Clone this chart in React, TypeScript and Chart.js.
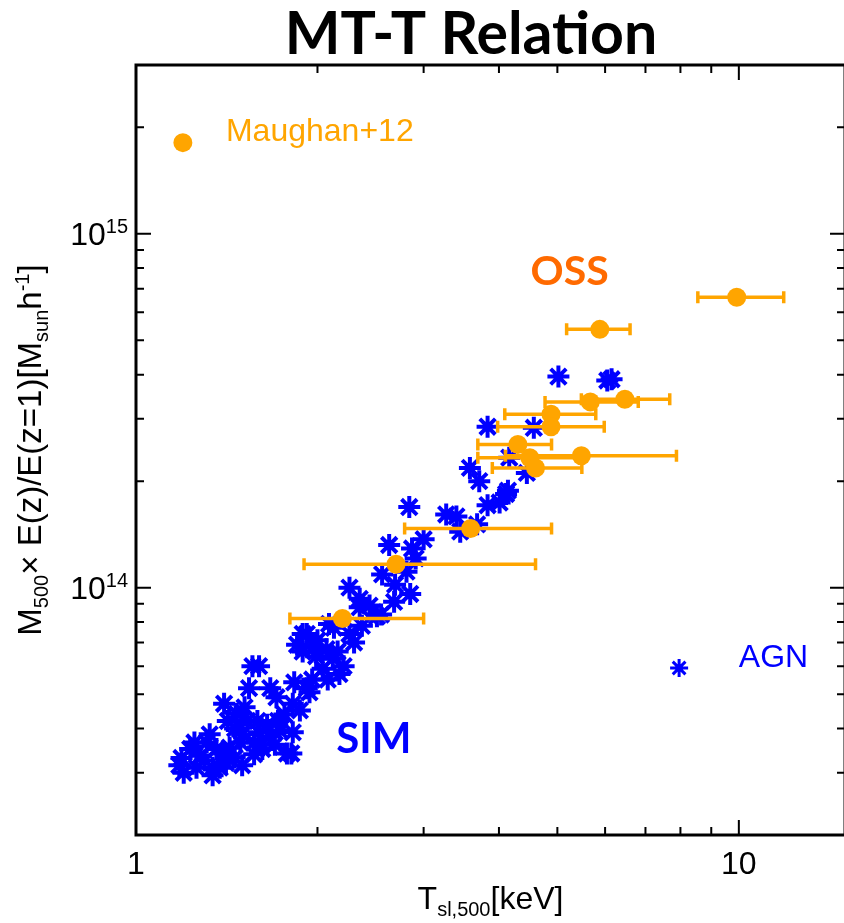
import React, { useEffect, useRef } from "react";
import { Chart, registerables } from "chart.js";

Chart.register(...registerables);

// Simulated clusters (SIM, AGN run): temperature [keV], mass [M_sun/h]
const SIM_T = [
  5.02, 6.05, 6.15, 3.83, 4.57, 4.16, 3.58, 3.71, 4.45, 4.14, 4.01, 3.83, 2.84, 3.27, 3.4, 3.45,
  3.68, 3.0, 2.63, 2.87, 2.91, 2.56, 2.81, 2.85, 2.69, 2.26, 2.35, 2.44, 2.55, 2.09, 2.26, 2.37,
  1.89, 2.35, 2.51, 2.13, 1.85, 1.92, 1.89, 2.07, 1.99, 2.12, 2.04, 2.21, 2.08, 1.96, 1.83, 1.92,
  1.56, 1.6, 1.54, 1.67, 1.71, 1.82, 1.87, 1.4, 1.47, 1.42, 1.53, 1.59, 1.65, 1.72, 1.6, 1.5,
  1.82, 1.49, 1.62, 1.78, 1.81, 1.31, 1.36, 1.28, 1.4, 1.23, 1.19, 1.26, 1.34, 1.41, 1.5, 1.2,
  1.34, 1.18, 4.11, 1.98, 2.0, 2.16, 1.67, 1.73, 1.57, 1.46, 1.3, 1.43,
  1.25, 1.325, 1.377, 1.458, 1.57, 1.7, 1.514, 1.763, 1.94, 2.175, 2.3, 2.68,
];
const SIM_M = [
  3.95e14, 3.85e14, 3.88e14, 2.85e14, 2.83e14, 2.33e14, 2.18e14, 2.0e14, 2.11e14, 1.88e14, 1.74e14,
  1.71e14, 1.69e14, 1.61e14, 1.59e14, 1.44e14, 1.51e14, 1.37e14, 1.32e14, 1.29e14, 1.21e14, 1.09e14,
  1.11e14, 0.96e14, 1.02e14, 1.0e14, 0.93e14, 0.89e14, 0.84e14, 0.79e14, 0.74e14, 0.78e14, 0.74e14,
  0.88e14, 0.83e14, 0.77e14, 0.69e14, 0.74e14, 0.66e14, 0.67e14, 0.64e14, 0.63e14, 0.59e14, 0.6e14,
  0.55e14, 0.55e14, 0.54e14, 0.52e14, 0.6e14, 0.6e14, 0.52e14, 0.52e14, 0.49e14, 0.47e14, 0.45e14,
  0.47e14, 0.44e14, 0.42e14, 0.42e14, 0.42e14, 0.41e14, 0.42e14, 0.39e14, 0.385e14, 0.39e14,
  0.365e14, 0.35e14, 0.34e14, 0.34e14, 0.365e14, 0.35e14, 0.335e14, 0.34e14, 0.35e14, 0.33e14,
  0.31e14, 0.31e14, 0.32e14, 0.315e14, 0.3e14, 0.295e14, 0.315e14, 1.84e14, 0.68e14, 0.71e14,
  0.66e14, 0.38e14, 0.395e14, 0.365e14, 0.4e14, 0.325e14, 0.353e14,
  0.365e14, 0.385e14, 0.31e14, 0.331e14, 0.338e14, 0.36e14, 0.459e14, 0.438e14, 0.506e14, 0.57e14,
  0.7e14, 0.912e14,
];

// Maughan+12 observed clusters
const OBS_T = [9.92, 5.88, 6.47, 5.67, 4.88, 4.88, 4.3, 5.48, 4.5, 4.6, 3.59, 2.7, 2.2];
const OBS_T_LO = [8.55, 5.18, 5.48, 4.77, 4.09, 3.98, 3.69, 4.1, 3.69, 3.9, 2.79, 1.9, 1.8];
const OBS_T_HI = [11.87, 6.6, 7.68, 6.81, 5.79, 5.98, 4.89, 7.88, 5.48, 5.49, 4.89, 4.6, 3.0];
const OBS_M = [
  6.62e14, 5.37e14, 3.41e14, 3.35e14, 3.09e14, 2.85e14, 2.54e14, 2.36e14, 2.33e14, 2.18e14,
  1.47e14, 1.165e14, 0.818e14,
];

// Axes
const X_MIN = 1;
const X_MAX = 15;
const Y_MIN = 2e13;
const Y_MAX = 3e15;
const X_MAJOR = [1, 10];
const X_MAJOR_LABELS = ["1", "10"];
const X_MINOR = [2, 3, 4, 5, 6, 7, 8, 9];
const Y_MAJOR = [1e14, 1e15];
const Y_MAJOR_EXP = ["14", "15"];
const Y_MINOR = [3e13, 4e13, 5e13, 6e13, 7e13, 8e13, 9e13, 2e14, 3e14, 4e14, 5e14, 6e14, 7e14, 8e14, 9e14, 2e15];

// Annotation anchors (data coordinates)
const LEGEND_OBS = { x: 1.196, y: 1.81e15, text: "Maughan+12", tx: 1.41, ty: 1.94e15 };
const LEGEND_AGN = { x: 7.96, y: 5.93e13, text: "AGN", tx: 10.0, ty: 6.33e13 };
const LABEL_OSS = { x: 5.24, y: 7.8e14, text: "OSS" };
const LABEL_SIM = { x: 2.48, y: 3.72e13, text: "SIM" };

const BLUE = "#0000FF";
const ORANGE = "#FFA500";
const DARK_ORANGE = "#FF6A00";
const SANS = "'Liberation Sans', Arial, Helvetica, sans-serif";
const BOLD = "'Lato', 'Open Sans', sans-serif";

type Part = { t: string; k?: "sub" | "sup" };

function drawRich(ctx: CanvasRenderingContext2D, parts: Part[], x: number, y: number, size: number, align: "center" | "left" | "right") {
  const small = Math.round(size * 0.62);
  const widths = parts.map((p) => {
    ctx.font = `${p.k ? small : size}px ${SANS}`;
    return ctx.measureText(p.t).width;
  });
  const total = widths.reduce((a, b) => a + b, 0);
  let cx = align === "center" ? x - total / 2 : align === "right" ? x - total : x;
  ctx.textAlign = "left";
  ctx.textBaseline = "alphabetic";
  parts.forEach((p, i) => {
    ctx.font = `${p.k ? small : size}px ${SANS}`;
    const dy = p.k === "sub" ? size * 0.22 : p.k === "sup" ? -size * 0.36 : 0;
    ctx.fillText(p.t, cx, y + dy);
    cx += widths[i];
  });
}

const decorPlugin = {
  id: "decor",
  afterDatasetDraw(chart: any, args: any) {
    if (args.index !== 0) return;
    const { ctx, scales, chartArea } = chart;
    const xs = scales.x;
    const ys = scales.y;
    ctx.save();
    ctx.beginPath();
    ctx.rect(chartArea.left, chartArea.top, chartArea.right - chartArea.left, chartArea.bottom - chartArea.top);
    ctx.clip();
    ctx.strokeStyle = ORANGE;
    ctx.lineWidth = 3.5;
    OBS_T.forEach((_, i) => {
      const y = ys.getPixelForValue(OBS_M[i]);
      const x0 = xs.getPixelForValue(OBS_T_LO[i]);
      const x1 = xs.getPixelForValue(OBS_T_HI[i]);
      ctx.beginPath();
      ctx.moveTo(x0, y);
      ctx.lineTo(x1, y);
      ctx.moveTo(x0, y - 6);
      ctx.lineTo(x0, y + 6);
      ctx.moveTo(x1, y - 6);
      ctx.lineTo(x1, y + 6);
      ctx.stroke();
    });
    ctx.restore();
  },
  afterDraw(chart: any) {
    const { ctx, scales, chartArea } = chart;
    const xs = scales.x;
    const ys = scales.y;
    const { left, right, top, bottom } = chartArea;
    ctx.save();
    // tick marks (inward, all four sides)
    ctx.strokeStyle = "#000";
    ctx.lineWidth = 2;
    const xt = (v: number, len: number) => {
      const x = xs.getPixelForValue(v);
      ctx.beginPath();
      ctx.moveTo(x, bottom);
      ctx.lineTo(x, bottom - len);
      ctx.moveTo(x, top);
      ctx.lineTo(x, top + len);
      ctx.stroke();
    };
    const yt = (v: number, len: number) => {
      const y = ys.getPixelForValue(v);
      ctx.beginPath();
      ctx.moveTo(left, y);
      ctx.lineTo(left + len, y);
      ctx.moveTo(right, y);
      ctx.lineTo(right - len, y);
      ctx.stroke();
    };
    X_MINOR.forEach((v) => xt(v, 8));
    X_MAJOR.forEach((v) => xt(v, 15));
    Y_MINOR.forEach((v) => yt(v, 8));
    Y_MAJOR.forEach((v) => yt(v, 15));
    // frame
    ctx.lineWidth = 3;
    ctx.strokeRect(left, top, right - left, bottom - top);

    ctx.fillStyle = "#000";
    // x tick labels
    ctx.font = `32px ${SANS}`;
    ctx.textAlign = "center";
    ctx.textBaseline = "alphabetic";
    X_MAJOR.forEach((v, i) => {
      ctx.fillText(X_MAJOR_LABELS[i], xs.getPixelForValue(v), bottom + 39);
    });
    // y tick labels
    Y_MAJOR.forEach((v, i) => {
      const y = ys.getPixelForValue(v);
      drawRich(ctx, [{ t: "10" }, { t: Y_MAJOR_EXP[i], k: "sup" }], left - 8, y + 11, 32, "right");
    });
    // x axis title
    drawRich(ctx, [{ t: "T" }, { t: "sl,500", k: "sub" }, { t: "[keV]" }], (left + right) / 2, bottom + 74, 32, "center");
    // y axis title
    ctx.save();
    ctx.translate(41, (top + bottom) / 2);
    ctx.rotate(-Math.PI / 2);
    drawRich(
      ctx,
      [
        { t: "M" },
        { t: "500", k: "sub" },
        { t: "\u00d7 E(z)/E(z=1)[M" },
        { t: "sun", k: "sub" },
        { t: "h" },
        { t: "-1", k: "sup" },
        { t: "]" },
      ],
      0,
      0,
      33,
      "center"
    );
    ctx.restore();

    // chart title
    ctx.font = `bold 59px ${BOLD}`;
    ctx.textAlign = "center";
    ctx.fillText("MT-T Relation", 471, 54);

    // legend: Maughan+12
    ctx.fillStyle = ORANGE;
    ctx.beginPath();
    ctx.arc(xs.getPixelForValue(LEGEND_OBS.x), ys.getPixelForValue(LEGEND_OBS.y), 9.5, 0, Math.PI * 2);
    ctx.fill();
    ctx.font = `32px ${SANS}`;
    ctx.textAlign = "left";
    ctx.textBaseline = "middle";
    ctx.fillText(LEGEND_OBS.text, xs.getPixelForValue(LEGEND_OBS.tx), ys.getPixelForValue(LEGEND_OBS.ty));

    // legend: AGN
    const ax = xs.getPixelForValue(LEGEND_AGN.x);
    const ay = ys.getPixelForValue(LEGEND_AGN.y);
    ctx.strokeStyle = BLUE;
    ctx.lineWidth = 3;
    ctx.beginPath();
    const r = 9;
    for (let k = 0; k < 4; k++) {
      const a = (k * Math.PI) / 4;
      ctx.moveTo(ax - r * Math.sin(a), ay - r * Math.cos(a));
      ctx.lineTo(ax + r * Math.sin(a), ay + r * Math.cos(a));
    }
    ctx.stroke();
    ctx.fillStyle = BLUE;
    ctx.fillText(LEGEND_AGN.text, xs.getPixelForValue(LEGEND_AGN.tx), ys.getPixelForValue(LEGEND_AGN.ty));

    // group labels
    ctx.textAlign = "center";
    ctx.font = `bold 41px ${BOLD}`;
    ctx.fillStyle = DARK_ORANGE;
    ctx.fillText(LABEL_OSS.text, xs.getPixelForValue(LABEL_OSS.x), ys.getPixelForValue(LABEL_OSS.y));
    ctx.font = `bold 42px ${BOLD}`;
    ctx.fillStyle = BLUE;
    ctx.fillText(LABEL_SIM.text, xs.getPixelForValue(LABEL_SIM.x), ys.getPixelForValue(LABEL_SIM.y));
    ctx.restore();
  },
};

export default function App() {
  const ref = useRef<HTMLCanvasElement | null>(null);
  useEffect(() => {
    if (!ref.current) return;
    const chart = new Chart(ref.current, {
      type: "scatter",
      data: {
        datasets: [
          {
            label: "SIM",
            data: SIM_T.map((t, i) => ({ x: t, y: SIM_M[i] })),
            pointStyle: "star",
            pointRadius: 11,
            borderWidth: 4,
            borderColor: BLUE,
            backgroundColor: BLUE,
            order: 2,
          },
          {
            label: "Maughan+12",
            data: OBS_T.map((t, i) => ({ x: t, y: OBS_M[i] })),
            pointStyle: "circle",
            pointRadius: 9.5,
            borderWidth: 0,
            borderColor: ORANGE,
            backgroundColor: ORANGE,
            order: 1,
          },
        ],
      },
      options: {
        responsive: false,
        animation: false,
        devicePixelRatio: 1,
        layout: { padding: { top: 65, right: 2, left: 0, bottom: 0 } },
        plugins: { legend: { display: false }, tooltip: { enabled: false }, title: { display: false } },
        scales: {
          x: {
            type: "logarithmic",
            min: X_MIN,
            max: X_MAX,
            grid: { display: false },
            border: { display: false },
            ticks: { display: false },
            afterFit: (s: any) => {
              s.height = 88;
            },
          },
          y: {
            type: "logarithmic",
            min: Y_MIN,
            max: Y_MAX,
            grid: { display: false },
            border: { display: false },
            ticks: { display: false },
            afterFit: (s: any) => {
              s.width = 136;
            },
          },
        },
      },
      plugins: [decorPlugin],
    } as any);
    return () => chart.destroy();
  }, []);
  return (
    <div style={{ position: "absolute", left: 0, top: 0, width: 844, height: 923, overflow: "hidden", background: "#fff" }}>
      <canvas ref={ref} width={860} height={923} style={{ display: "block" }} />
    </div>
  );
}
